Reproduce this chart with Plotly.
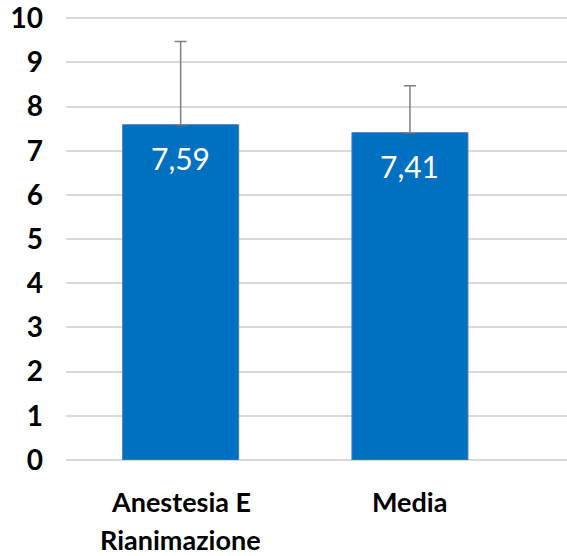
import plotly.graph_objects as go

categories = ["Anestesia E<br>Rianimazione", "Media"]
cat_lines = [["Anestesia E", "Rianimazione"], ["Media"]]
values = [7.59, 7.41]
errors_plus = [1.88, 1.06]
value_labels = ["7,59", "7,41"]
y_ticks = list(range(0, 11))

x_pos = list(range(len(categories)))

fig = go.Figure()
fig.add_trace(go.Bar(
    x=x_pos, y=values, width=0.506,
    marker=dict(color="#0070C0", line=dict(color="#4A7BC8", width=1)),
    error_y=dict(type="data", symmetric=False, array=errors_plus,
                 arrayminus=[0] * len(values),
                 color="#808080", thickness=1.5, width=6),
    hoverinfo="skip",
))

annotations = []
for i, (v, lab) in enumerate(zip(values, value_labels)):
    annotations.append(dict(x=i, y=v, xref="x", yref="y", text=lab,
                            showarrow=False, yshift=-33,
                            font=dict(family="Lato", size=30, color="white")))
for i, lines in enumerate(cat_lines):
    for j, t in enumerate(lines):
        annotations.append(dict(x=i, y=0, xref="x", yref="y", text="<b>%s</b>" % t,
                                showarrow=False, yanchor="middle", yshift=-41 - 38 * j,
                                font=dict(family="Lato", size=27, color="black")))

fig.update_layout(
    width=567, height=556,
    margin=dict(l=66, r=0, t=16, b=96),
    paper_bgcolor="white", plot_bgcolor="white",
    showlegend=False,
    annotations=annotations,
    xaxis=dict(range=[-0.5, 1.685], showticklabels=False, showgrid=False,
               zeroline=False, showline=False, fixedrange=True),
    yaxis=dict(range=[0, 10.05], tickvals=y_ticks,
               ticktext=["<b>%d</b>" % t for t in y_ticks],
               tickfont=dict(family="Lato", size=28, color="black"),
               showgrid=True, gridcolor="#D9D9D9", gridwidth=1.5,
               zeroline=True, zerolinecolor="#D9D9D9", zerolinewidth=1.5,
               showline=False, ticks="", ticklabelstandoff=22, fixedrange=True),
)

fig.write_html("out.html", config={"displayModeBar": False},
               post_script="document.body.style.margin='0';document.body.style.overflow='hidden';")
